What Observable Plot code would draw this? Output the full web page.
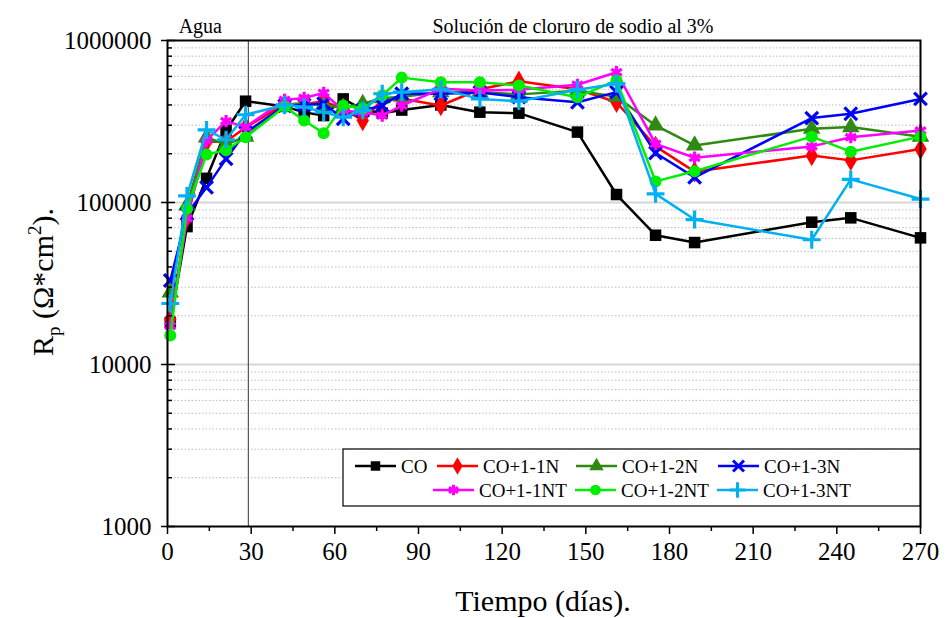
<!DOCTYPE html>
<html><head><meta charset="utf-8">
<script src="https://cdn.jsdelivr.net/npm/d3@7"></script>
<script src="https://cdn.jsdelivr.net/npm/@observablehq/plot@0.6"></script>
<style>body{margin:0;background:#fff} #chart{width:945px;height:618px}</style>
</head><body><div id="chart"></div>
<script>
// ---- data ----
const days = [1, 7, 14, 21, 28, 42, 49, 56, 63, 70, 77, 84, 98, 112, 126, 147, 161, 175, 189, 231, 245, 270];
const seriesNames = ["CO", "CO+1-1N", "CO+1-2N", "CO+1-3N", "CO+1-1NT", "CO+1-2NT", "CO+1-3NT"];
const rpCO    = [18200, 71000, 141000, 278000, 422000, 392000, 360000, 344000, 436000, 375000, 356000, 372000, 400000, 361000, 356000, 272000, 112000, 62800, 56600, 75600, 80400, 60500];
const rp1_1N  = [19000, 81000, 236000, 238000, 290000, 405000, 405000, 420000, 380000, 321000, 430000, 437000, 397000, 500000, 560000, 500000, 416000, 222000, 155000, 195000, 182000, 214000];
const rp1_2N  = [27800, 96000, 252000, 228000, 255000, 400000, 410000, 400000, 385000, 407000, 440000, 450000, 480000, 480000, 465000, 490000, 450000, 299000, 225000, 285000, 292000, 255000];
const rp1_3N  = [33000, 85000, 124000, 186000, 270000, 395000, 400000, 407000, 329000, 370000, 397000, 470000, 469000, 478000, 447000, 416000, 480000, 202000, 143000, 332000, 353000, 436000];
const rp1_1NT = [17300, 80000, 241000, 318000, 292000, 430000, 442000, 475000, 370000, 360000, 344000, 397000, 503000, 491000, 497000, 533000, 637000, 230000, 189000, 222000, 253000, 278000];
const rp1_2NT = [15100, 91500, 198000, 210000, 253000, 390000, 321000, 268000, 397000, 380000, 458000, 590000, 553000, 553000, 528000, 447000, 567000, 135000, 156000, 255000, 206000, 255000];
const rp1_3NT = [23800, 110000, 281000, 244000, 348000, 400000, 388000, 361000, 336000, 370000, 469000, 480000, 500000, 436000, 422000, 497000, 541000, 113000, 78500, 58900, 139000, 105000];
const seriesValues = [rpCO, rp1_1N, rp1_2N, rp1_3N, rp1_1NT, rp1_2NT, rp1_3NT];

const xTicksMajor = [0, 30, 60, 90, 120, 150, 180, 210, 240, 270];
const xTicksMinor = [15, 45, 75, 105, 135, 165, 195, 225, 255];
const yTicksMajor = [1000, 10000, 100000, 1000000];
const yTicksMinor = [2000,3000,4000,5000,6000,7000,8000,9000,20000,30000,40000,50000,60000,70000,80000,90000,200000,300000,400000,500000,600000,700000,800000,900000];
const yGridDecades = [10000, 100000];
const changeDay = [29];
const phaseLabels = [{x: 4, text: "Agua"}, {x: 95, text: "Solución de cloruro de sodio al 3%"}];

// ---- styling ----
const colors = ["#000000", "#ff0000", "#2e8a10", "#0000ff", "#ff00ff", "#00ee00", "#00b0f0"];
const symbols = ["square", "diamond", "triangle", "times", "asterisk", "circle", "plus"];
const filledSym = new Set(["square", "diamond", "triangle", "circle"]);
const FONT = "'Liberation Serif', 'Times New Roman', serif";

const rows = seriesNames.flatMap((s, i) => days.map((d, j) => ({series: s, day: d, rp: seriesValues[i][j]})));

const seriesMarks = seriesNames.flatMap((s, i) => {
  const data = rows.filter(r => r.series === s);
  const sym = symbols[i];
  return [
    Plot.line(data, {x: "day", y: "rp", stroke: colors[i], strokeWidth: 2.5}),
    filledSym.has(sym)
      ? Plot.dot(data, {x: "day", y: "rp", symbol: () => sym, fill: colors[i], r: sym === "circle" ? 6 : 6.5})
      : Plot.dot(data, {x: "day", y: "rp", symbol: () => sym, stroke: colors[i], strokeWidth: 3.2, r: 5.8})
  ];
});

const plot = Plot.plot({
  width: 945, height: 618,
  marginLeft: 167, marginRight: 25, marginTop: 40, marginBottom: 92,
  style: {fontFamily: FONT, background: "#fff", color: "#000", overflow: "visible"},
  x: {domain: [0, 270], label: null},
  y: {type: "log", domain: [1000, 1000000], label: null},
  symbol: {type: "identity"},
  marks: [
    Plot.ruleY(yTicksMinor, {stroke: "#bdbdbd", strokeDasharray: "1.5,2", strokeWidth: 1}),
    Plot.ruleY(yGridDecades, {stroke: "#d6d6d6", strokeWidth: 2}),
    Plot.ruleX(changeDay, {stroke: "#555", strokeWidth: 1.2}),
    ...seriesMarks,
    Plot.frame({stroke: "#000", strokeWidth: 2}),
    Plot.axisY(yTicksMajor, {anchor: "left", tickSize: 6, tickPadding: 10, tickFormat: d => String(d), fontSize: 25, label: null, strokeWidth: 1.5}),
    Plot.axisY(yTicksMajor, {anchor: "left", tickSize: -8, text: null, label: null, strokeWidth: 1.5}),
    Plot.axisY(yTicksMinor, {anchor: "left", tickSize: -5, text: null, label: null, strokeWidth: 1.5}),
    Plot.axisX(xTicksMajor, {anchor: "bottom", tickSize: 8, tickPadding: 8, fontSize: 25, label: null, strokeWidth: 1.5}),
    Plot.axisX(xTicksMinor, {anchor: "bottom", tickSize: 5, text: null, label: null, strokeWidth: 1.5}),
    Plot.text(phaseLabels, {x: "x", text: "text", frameAnchor: "top", textAnchor: "start", dy: -22, fontSize: 20})
  ]
});
document.getElementById("chart").appendChild(plot);

// ---- axis titles and legend ----
const svg = d3.select(plot);
svg.append("text")
  .attr("transform", "translate(543,604)")
  .attr("text-anchor", "middle").attr("dominant-baseline", "middle")
  .style("font-family", FONT).style("font-size", "30px")
  .text("Tiempo (días).");

const yt = svg.append("text")
  .attr("transform", "translate(53,282) rotate(-90)")
  .attr("text-anchor", "middle")
  .style("font-family", FONT).style("font-size", "30px");
yt.append("tspan").text("R");
yt.append("tspan").attr("dy", 7).style("font-size", "19px").text("p");
yt.append("tspan").attr("dy", -7).text(" (Ω*cm");
yt.append("tspan").attr("dy", -12).style("font-size", "19px").text("2");
yt.append("tspan").attr("dy", 12).text(").");

const lg = svg.append("g");
lg.append("rect").attr("x", 343).attr("y", 449).attr("width", 577).attr("height", 57)
  .attr("fill", "#fff").attr("stroke", "#000").attr("stroke-width", 1.2);
const legendPos = [
  {lx: 355, ly: 466}, {lx: 437, ly: 466}, {lx: 576, ly: 466}, {lx: 718, ly: 466},
  {lx: 433, ly: 490}, {lx: 575, ly: 490}, {lx: 717, ly: 490}
];
const d3sym = {square: d3.symbolSquare, diamond: d3.symbolDiamond, triangle: d3.symbolTriangle,
  times: d3.symbolTimes, asterisk: d3.symbolAsterisk, circle: d3.symbolCircle, plus: d3.symbolPlus};
seriesNames.forEach((s, i) => {
  const {lx, ly} = legendPos[i];
  const g = lg.append("g");
  g.append("line").attr("x1", lx).attr("x2", lx + 41).attr("y1", ly).attr("y2", ly)
    .attr("stroke", colors[i]).attr("stroke-width", 2.5);
  const sym = symbols[i];
  const filled = filledSym.has(sym);
  g.append("path").attr("transform", `translate(${lx + 20.5},${ly})`)
    .attr("d", d3.symbol(d3sym[sym], filled ? 90 : 80)())
    .attr("fill", filled ? colors[i] : "none")
    .attr("stroke", filled ? "none" : colors[i]).attr("stroke-width", filled ? 0 : 3);
  g.append("text").attr("x", lx + 46).attr("y", ly).attr("dy", "0.35em")
    .attr("text-anchor", "start")
    .style("font-family", FONT).style("font-size", "19px").text(s);
});
</script>
</body></html>
